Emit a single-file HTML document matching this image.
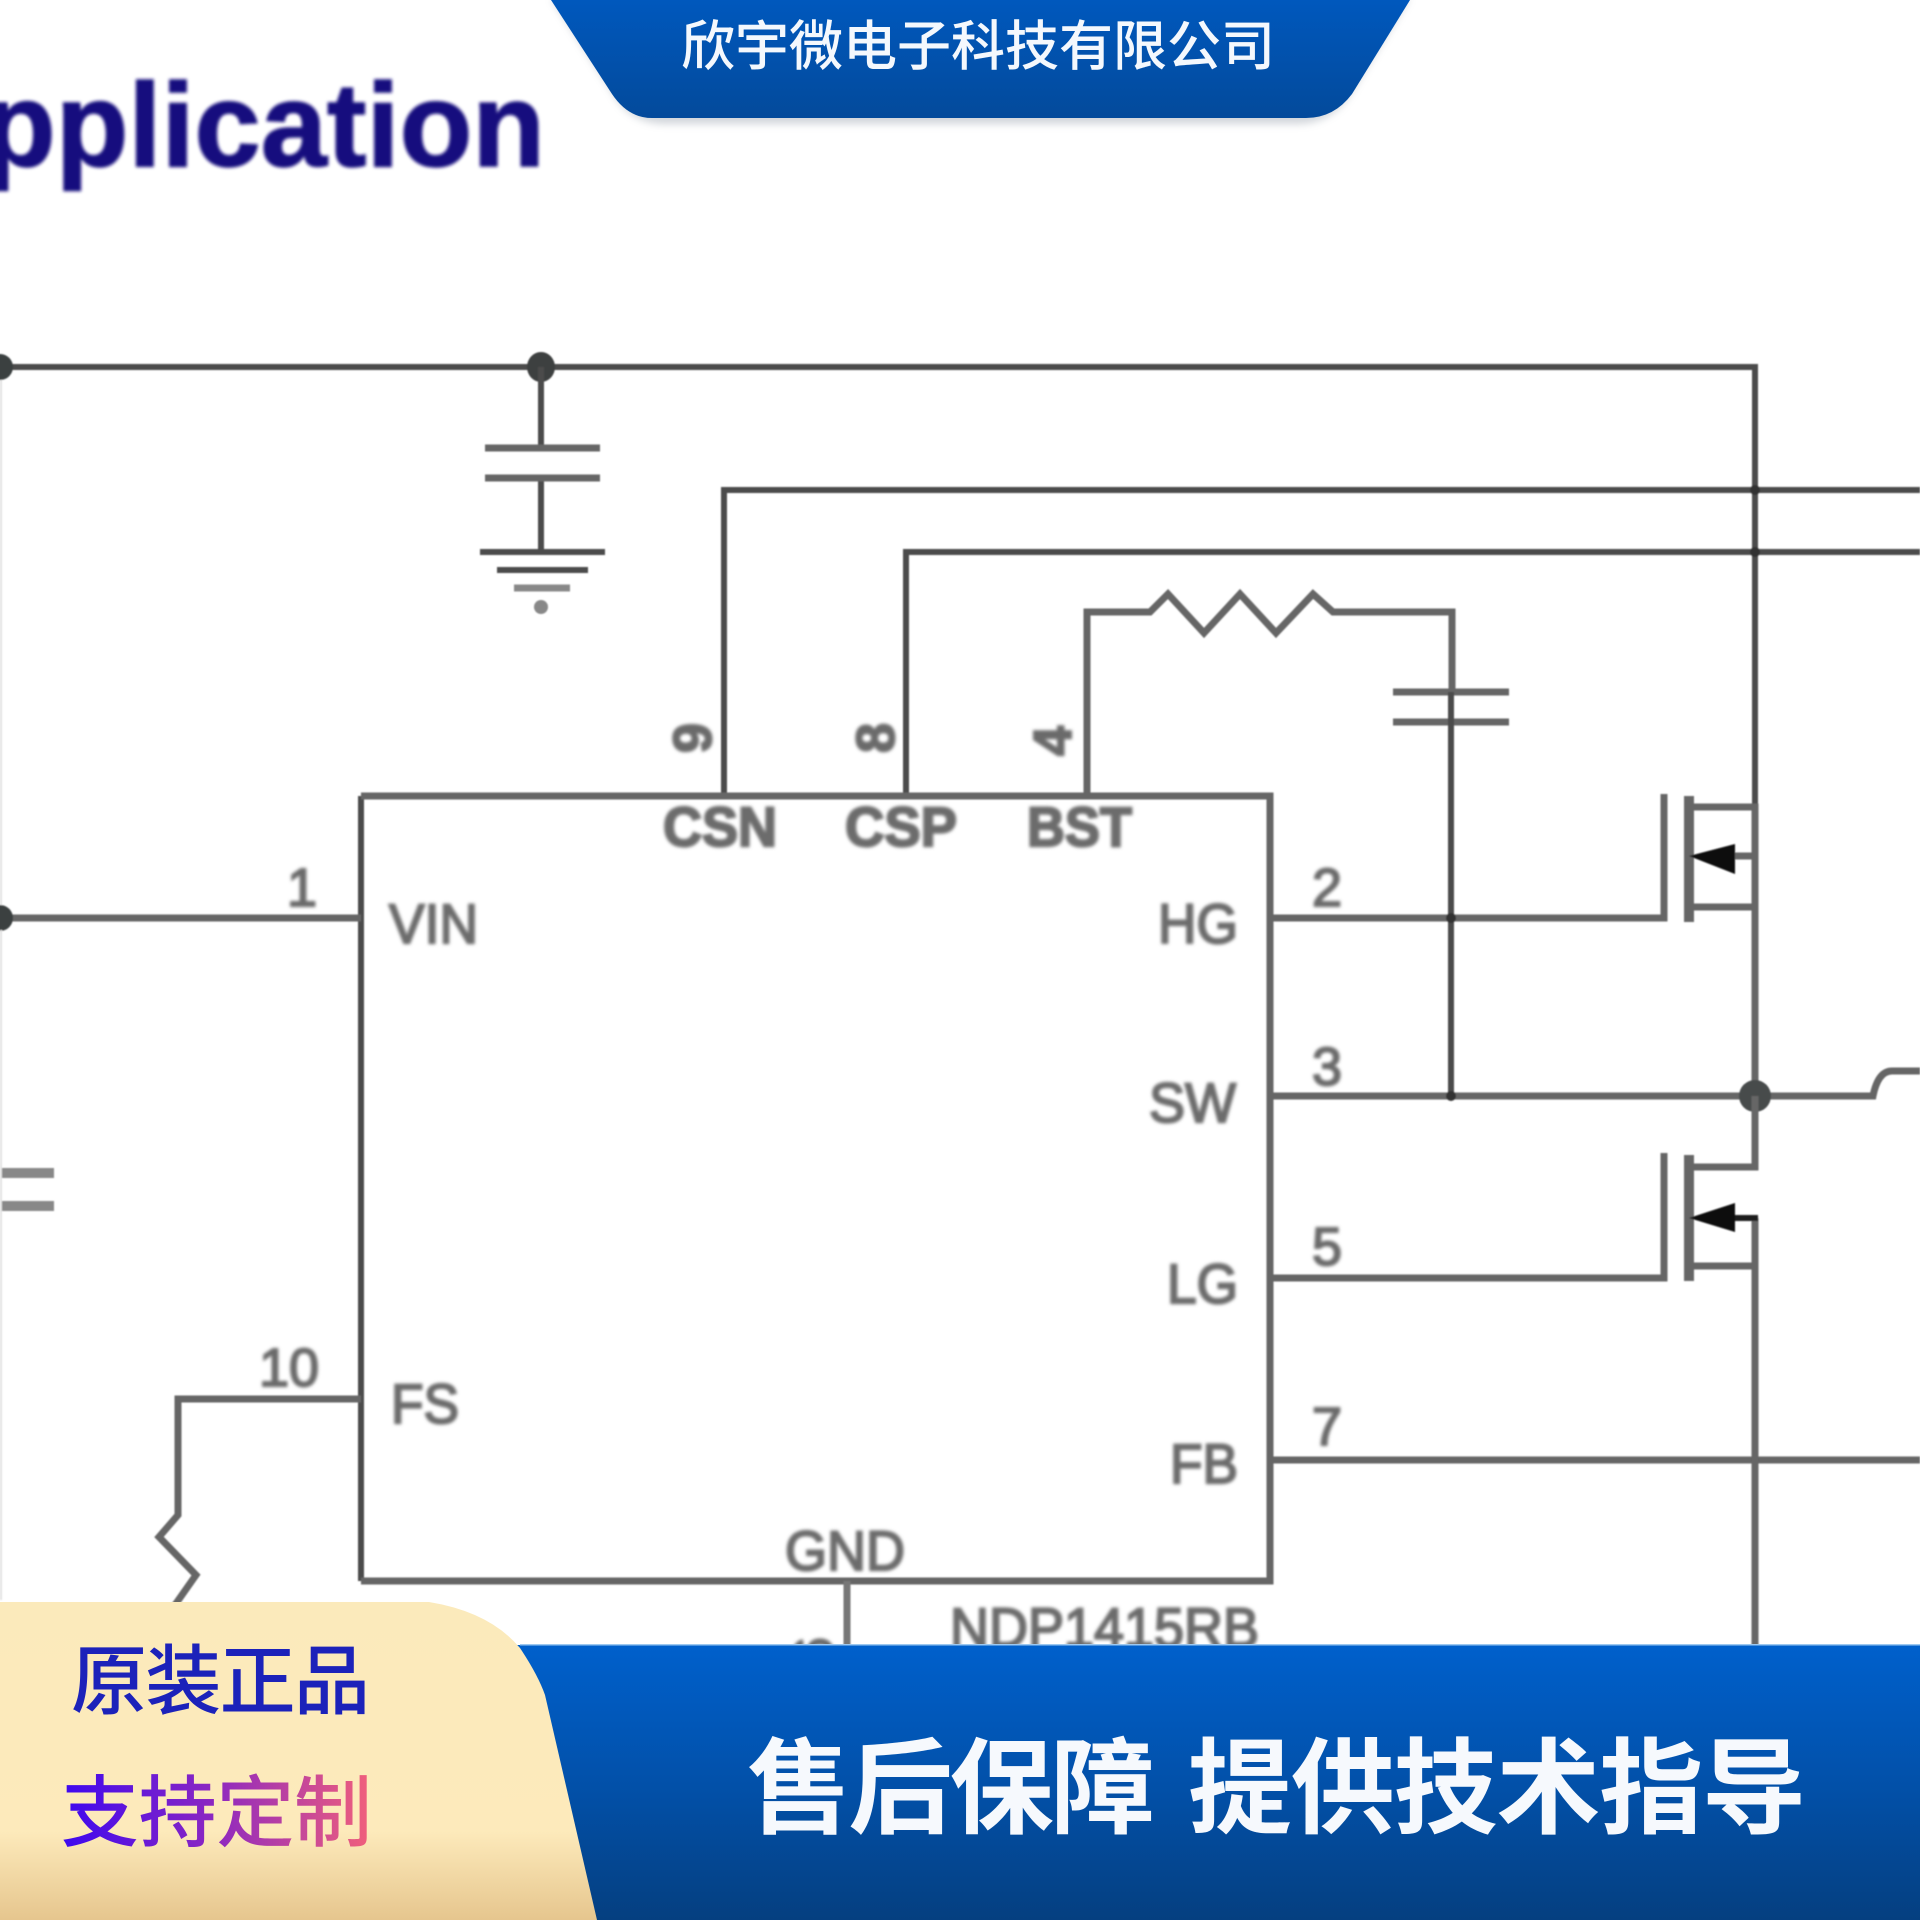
<!DOCTYPE html>
<html lang="zh">
<head>
<meta charset="utf-8">
<title>NDP1415RB Application</title>
<style>
html,body{margin:0;padding:0;background:#fff;width:1920px;height:1920px;overflow:hidden}
svg{display:block}
.w{fill:none;stroke:#666;stroke-width:7;stroke-linejoin:miter}
.d{fill:none;stroke:#4c4c4c;stroke-width:6}
.l{font-family:"Liberation Sans",sans-serif;font-size:56px;fill:#6c6c6c;stroke:#6c6c6c;stroke-width:2.2}
.n{font-family:"Liberation Sans",sans-serif;font-size:54px;fill:#6a6a6a;stroke:#6a6a6a;stroke-width:2}
.c{font-family:"Liberation Sans","Noto Sans CJK SC",sans-serif}
</style>
</head>
<body>
<svg width="1920" height="1920" viewBox="0 0 1920 1920" xmlns="http://www.w3.org/2000/svg">
<defs>
<linearGradient id="bt" x1="0" y1="0" x2="0" y2="1"><stop offset="0" stop-color="#0058bd"/><stop offset="1" stop-color="#034a9b"/></linearGradient>
<linearGradient id="bb" x1="0" y1="0" x2="0" y2="1"><stop offset="0" stop-color="#0060cc"/><stop offset="0.55" stop-color="#024fa6"/><stop offset="1" stop-color="#053f80"/></linearGradient>
<linearGradient id="be" x1="0" y1="0" x2="0" y2="1"><stop offset="0" stop-color="#fbeabb"/><stop offset="0.72" stop-color="#fdeabb"/><stop offset="1" stop-color="#e6c68e"/></linearGradient>
<linearGradient id="tg" gradientUnits="userSpaceOnUse" x1="60" y1="0" x2="372" y2="0"><stop offset="0" stop-color="#3c08f0"/><stop offset="0.5" stop-color="#8e28c0"/><stop offset="1" stop-color="#f2607a"/></linearGradient>
<filter id="b1" x="-5%" y="-20%" width="110%" height="140%"><feGaussianBlur stdDeviation="1.6"/></filter>
<filter id="b2" x="-5%" y="-5%" width="110%" height="110%"><feGaussianBlur stdDeviation="0.8"/></filter>
<filter id="sh" x="-5%" y="-5%" width="110%" height="130%"><feGaussianBlur stdDeviation="4"/></filter>
</defs>

<rect width="1920" height="1920" fill="#fff"/>

<text x="545" y="166" text-anchor="end" font-family="Liberation Sans" font-weight="700" font-size="119" fill="#18107e" stroke="#18107e" stroke-width="1.5" filter="url(#b1)">Application</text>

<g filter="url(#b2)">
<path class="d" d="M0 367H1755V856"/>
<circle cx="0" cy="367" r="13" fill="#3a3f3f"/>
<ellipse cx="541" cy="367" rx="14" ry="15" fill="#3d4040"/>
<path class="d" d="M541 367V447M541 478V552"/>
<path class="w" d="M485 448H600M485 478H600"/>
<path class="d" stroke-width="7" d="M480 552H605"/>
<path class="d" d="M497 570H588"/>
<path class="w" style="stroke:#888" d="M514 588H570"/>
<circle cx="541" cy="607" r="7" fill="#888"/>
<path class="d" d="M1920 490H724V796"/>
<path class="d" d="M1920 552H906V796"/>
<path class="w" d="M1087 796V612H1150L1168 594L1204 633L1240 594L1276 633L1313 594L1333 612H1452V692"/>
<path class="w" d="M1393 692H1509M1393 722H1509"/>
<path class="d" d="M1451 692V1096"/>
<path class="d" d="M361 1581V796"/>
<path class="w" d="M361 796H1270V1581H361"/>
<path class="w" d="M0 918H361"/>
<circle cx="0" cy="918" r="13" fill="#3a3f3f"/>
<path class="w" style="stroke:#888;stroke-width:10" d="M0 1173H54M0 1206H54"/>
<path class="w" d="M361 1399H178V1515L159 1537L196 1575L170 1612"/>
<path stroke="#e2e2e2" stroke-width="2" d="M1 380V905M1 930V1600"/>
<path class="w" d="M1270 918H1664V794"/>
<path class="w" d="M1270 1096H1873Q1878 1071 1892 1071H1920"/>
<path class="w" d="M1270 1278H1664V1153"/>
<path class="w" d="M1270 1460H1920"/>
<circle cx="1451" cy="918" r="5" fill="#333"/>
<circle cx="1451" cy="1096" r="5" fill="#333"/>
<circle cx="1755" cy="490" r="5" fill="#333"/>
<circle cx="1755" cy="552" r="5" fill="#333"/>
<circle cx="1755" cy="1460" r="4" fill="#555"/>
<path class="w" style="stroke-width:10" d="M1689 796V922"/>
<path class="w" d="M1689 807H1755V856"/>
<path class="w" d="M1689 907H1755"/>
<path class="w" d="M1730 856H1755V1096"/>
<path d="M1689 856L1735 844V874Z" fill="#0c0c0c"/>
<circle cx="1755" cy="1096" r="16" fill="#474b4c"/>
<path class="w" style="stroke-width:10" d="M1689 1155V1281"/>
<path class="w" d="M1755 1096V1167H1689"/>
<path class="w" d="M1689 1266H1755"/>
<path class="w" d="M1755 1218V1650"/>
<path d="M1730 1218H1758" stroke="#1a1a1a" stroke-width="6"/>
<path d="M1689 1218L1735 1203V1232Z" fill="#0c0c0c"/>
<path class="w" style="stroke:#777" d="M847 1581V1650"/>
</g>

<g filter="url(#b1)">
<text class="l" x="389" y="943" textLength="89" lengthAdjust="spacingAndGlyphs">VIN</text>
<text class="l" x="391" y="1423" textLength="68" lengthAdjust="spacingAndGlyphs">FS</text>
<text class="l" x="663" y="846" textLength="114" lengthAdjust="spacingAndGlyphs" font-weight="700">CSN</text>
<text class="l" x="845" y="846" textLength="112" lengthAdjust="spacingAndGlyphs" font-weight="700">CSP</text>
<text class="l" x="1027" y="846" textLength="105" lengthAdjust="spacingAndGlyphs" font-weight="700">BST</text>
<text class="l" x="1158" y="943" textLength="80" lengthAdjust="spacingAndGlyphs">HG</text>
<text class="l" x="1149" y="1122" textLength="87" lengthAdjust="spacingAndGlyphs">SW</text>
<text class="l" x="1167" y="1303" textLength="71" lengthAdjust="spacingAndGlyphs">LG</text>
<text class="l" x="1170" y="1483" textLength="68" lengthAdjust="spacingAndGlyphs">FB</text>
<text class="l" x="785" y="1570" textLength="120" lengthAdjust="spacingAndGlyphs">GND</text>
<text class="l" x="950" y="1647" textLength="309" lengthAdjust="spacingAndGlyphs">NDP1415RB</text>
<text class="n" x="302" y="906" text-anchor="middle">1</text>
<text class="n" x="1327" y="906" text-anchor="middle">2</text>
<text class="n" x="1327" y="1085" text-anchor="middle">3</text>
<text class="n" x="1327" y="1265" text-anchor="middle">5</text>
<text class="n" x="1327" y="1445" text-anchor="middle">7</text>
<text class="n" x="289" y="1386" text-anchor="middle">10</text>
<text class="n" transform="translate(711 738) rotate(-90)" text-anchor="middle" font-weight="700" font-size="50">9</text>
<text class="n" transform="translate(894 738) rotate(-90)" text-anchor="middle" font-weight="700" font-size="50">8</text>
<text class="n" transform="translate(1071 741) rotate(-90)" text-anchor="middle" font-weight="700" font-size="46">4</text>
<text class="n" transform="translate(832 1652) rotate(-90)" text-anchor="middle">6</text>
</g>

<path d="M551 0L612 94Q628 124 662 126H1300Q1334 124 1352 94L1410 0Z" fill="#7f8a99" opacity="0.35" filter="url(#sh)" transform="translate(0 -2)"/>
<path d="M551 0L612 94Q628 118 652 118H1306Q1334 118 1352 94L1410 0Z" fill="url(#bt)"/>
<text class="c" x="681" y="65" font-size="54" font-weight="500" fill="#f4f8fd" textLength="594" lengthAdjust="spacing">欣宇微电子科技有限公司</text>

<rect x="500" y="1645" width="1420" height="275" fill="url(#bb)"/>
<rect x="520" y="1644" width="1400" height="1.5" fill="#9cc8f0"/>
<path d="M0 1602H429Q490 1612 520 1648Q538 1675 545 1695L597 1920H0Z" fill="url(#be)"/>
<text class="c" x="71" y="1708" font-size="76" font-weight="500" fill="#1c22ba" textLength="299" lengthAdjust="spacing">原装正品</text>
<text class="c" x="61" y="1840" font-size="78" font-weight="500" fill="url(#tg)" textLength="311" lengthAdjust="spacing">支持定制</text>
<text class="c" x="747" y="1825" font-size="104" font-weight="700" fill="#f6f9fd" textLength="408" lengthAdjust="spacing">售后保障</text>
<text class="c" x="1188" y="1825" font-size="104" font-weight="700" fill="#f6f9fd" textLength="618" lengthAdjust="spacing">提供技术指导</text>
</svg>
</body>
</html>
